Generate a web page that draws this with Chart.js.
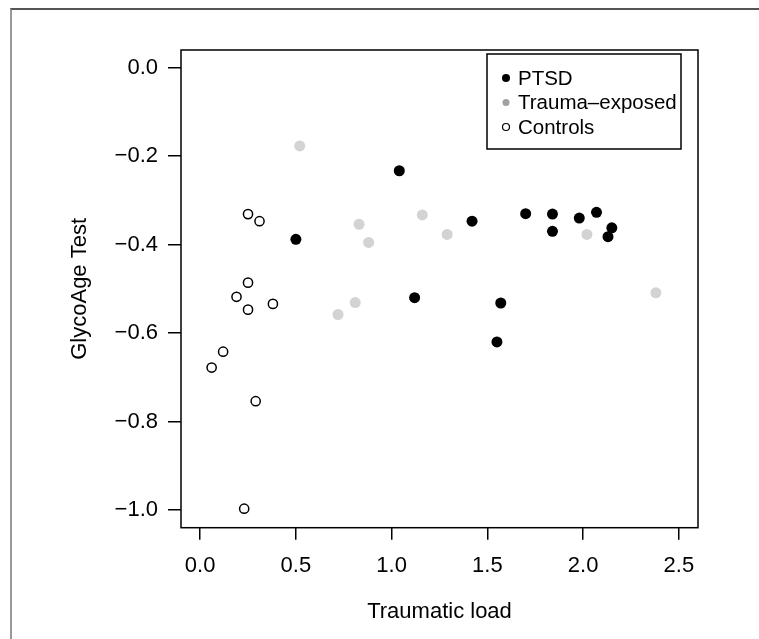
<!DOCTYPE html>
<html>
<head>
<meta charset="utf-8">
<script src="https://cdn.jsdelivr.net/npm/chart.js@4"></script>
<style>
  html, body { margin: 0; padding: 0; background: #fff; }
  #wrap { position: relative; width: 759px; height: 639px; overflow: hidden; }
  /* cadre de la figure (bords haut et gauche visibles) */
  #frame { position: absolute; left: 10px; top: 8px; width: 800px; height: 700px;
           border-top: 2px solid #555; border-left: 2px solid #999; box-sizing: border-box; }
  canvas { position: absolute; left: 0; top: 0; }
</style>
</head>
<body>
<div id="wrap">
  <div id="frame"></div>
  <canvas id="chart" width="759" height="639"></canvas>
</div>
<script>
// Données
const ptsdX = [0.50, 1.04, 1.12, 1.42, 1.55, 1.57, 1.70, 1.84, 1.84, 1.98, 2.07, 2.13, 2.15];
const ptsdY = [-0.388, -0.233, -0.520, -0.347, -0.620, -0.532, -0.330, -0.331, -0.370, -0.340, -0.327, -0.382, -0.362];

const traumaX = [0.52, 0.72, 0.81, 0.83, 0.88, 1.16, 1.29, 2.02, 2.38];
const traumaY = [-0.177, -0.558, -0.531, -0.354, -0.395, -0.333, -0.377, -0.377, -0.509];

const controlsX = [0.06, 0.12, 0.19, 0.23, 0.25, 0.25, 0.25, 0.29, 0.31, 0.38];
const controlsY = [-0.678, -0.642, -0.518, -0.997, -0.331, -0.486, -0.547, -0.754, -0.347, -0.534];

const xTicks = [0.0, 0.5, 1.0, 1.5, 2.0, 2.5];
const yTicks = [-1.0, -0.8, -0.6, -0.4, -0.2, 0.0];

const FONT = "'Liberation Sans', Arial, Helvetica, sans-serif";

function toPoints(xs, ys) {
    return xs.map((x, i) => ({ x: x, y: ys[i] }));
}

// format R : signe moins typographique
function fmt(v) {
    const s = Math.abs(v).toFixed(1);
    return v < 0 ? '\u2212' + s : s;
}

// Boîte autour de la zone de tracé
const boxPlugin = {
    id: 'plotBox',
    afterDatasetsDraw(chart) {
        const { ctx, chartArea: a } = chart;
        ctx.save();
        ctx.strokeStyle = '#000';
        ctx.lineWidth = 1.5;
        ctx.strokeRect(a.left, a.top, a.right - a.left, a.bottom - a.top);
        ctx.restore();
    }
};

// Légende encadrée en haut à droite, construite à partir des jeux de données
const legendPlugin = {
    id: 'rLegend',
    afterDraw(chart) {
        const { ctx, chartArea: a } = chart;
        const x0 = a.left + 306, y0 = a.top + 4, w = 194, h = 95;
        ctx.save();
        ctx.fillStyle = '#fff';
        ctx.fillRect(x0, y0, w, h);
        ctx.strokeStyle = '#000';
        ctx.lineWidth = 1.5;
        ctx.strokeRect(x0, y0, w, h);
        ctx.font = '20.5px ' + FONT;
        ctx.textBaseline = 'middle';
        chart.data.datasets.forEach((ds, i) => {
            const cy = y0 + 24 + i * 24.5;
            const cx = x0 + 19;
            ctx.beginPath();
            ctx.arc(cx, cy, ds.legendRadius, 0, Math.PI * 2);
            if (ds.legendFill) {
                ctx.fillStyle = ds.legendFill;
                ctx.fill();
            } else {
                ctx.strokeStyle = '#000';
                ctx.lineWidth = 1.2;
                ctx.stroke();
            }
            ctx.fillStyle = '#000';
            ctx.fillText(ds.label, x0 + 31, cy + 1);
        });
        ctx.restore();
    }
};

const ctx = document.getElementById('chart').getContext('2d');
const chart = new Chart(ctx, {
    type: 'scatter',
    data: {
        datasets: [
            {
                label: 'PTSD',
                data: toPoints(ptsdX, ptsdY),
                pointRadius: 5.5,
                pointBackgroundColor: '#000',
                pointBorderColor: '#000',
                pointBorderWidth: 0,
                legendRadius: 4,
                legendFill: '#000'
            },
            {
                label: 'Trauma\u2013exposed',
                data: toPoints(traumaX, traumaY),
                pointRadius: 5.5,
                pointBackgroundColor: '#d3d3d3',
                pointBorderColor: '#d3d3d3',
                pointBorderWidth: 0,
                legendRadius: 3.5,
                legendFill: '#a0a0a0'
            },
            {
                label: 'Controls',
                data: toPoints(controlsX, controlsY),
                pointRadius: 4.6,
                pointBackgroundColor: 'rgba(255,255,255,0)',
                pointBorderColor: '#000',
                pointBorderWidth: 1.5,
                legendRadius: 3.5,
                legendFill: null
            }
        ]
    },
    options: {
        responsive: false,
        animation: false,
        events: [],
        layout: { padding: { left: 0, top: 50, right: 61, bottom: 0 } },
        plugins: {
            legend: { display: false },
            tooltip: { enabled: false }
        },
        scales: {
            x: {
                type: 'linear',
                min: -0.1,
                max: 2.6,
                afterBuildTicks: (scale) => { scale.ticks = xTicks.map(v => ({ value: v })); },
                afterFit: (scale) => { scale.height = 111.3; },
                grid: { drawOnChartArea: false, drawTicks: true, tickLength: 12, color: '#000', lineWidth: 1.5 },
                border: { display: false },
                ticks: {
                    color: '#000',
                    padding: 13,
                    maxRotation: 0,
                    autoSkip: false,
                    font: { family: FONT, size: 22 },
                    callback: (v) => fmt(v)
                },
                title: {
                    display: true,
                    text: 'Traumatic load',
                    color: '#000',
                    font: { family: FONT, size: 22 },
                    padding: { top: 0, bottom: 14 }
                }
            },
            y: {
                type: 'linear',
                min: -1.04,
                max: 0.04,
                afterBuildTicks: (scale) => { scale.ticks = yTicks.map(v => ({ value: v })); },
                afterFit: (scale) => { scale.width = 181; },
                grid: { drawOnChartArea: false, drawTicks: true, tickLength: 13, color: '#000', lineWidth: 1.5 },
                border: { display: false },
                ticks: {
                    color: '#000',
                    padding: 10,
                    autoSkip: false,
                    font: { family: FONT, size: 22 },
                    callback: (v) => fmt(v)
                },
                title: {
                    display: true,
                    text: 'GlycoAge Test',
                    color: '#000',
                    font: { family: FONT, size: 22 },
                    padding: { top: 67, bottom: 0 }
                }
            }
        }
    },
    plugins: [boxPlugin, legendPlugin]
});
</script>
</body>
</html>
